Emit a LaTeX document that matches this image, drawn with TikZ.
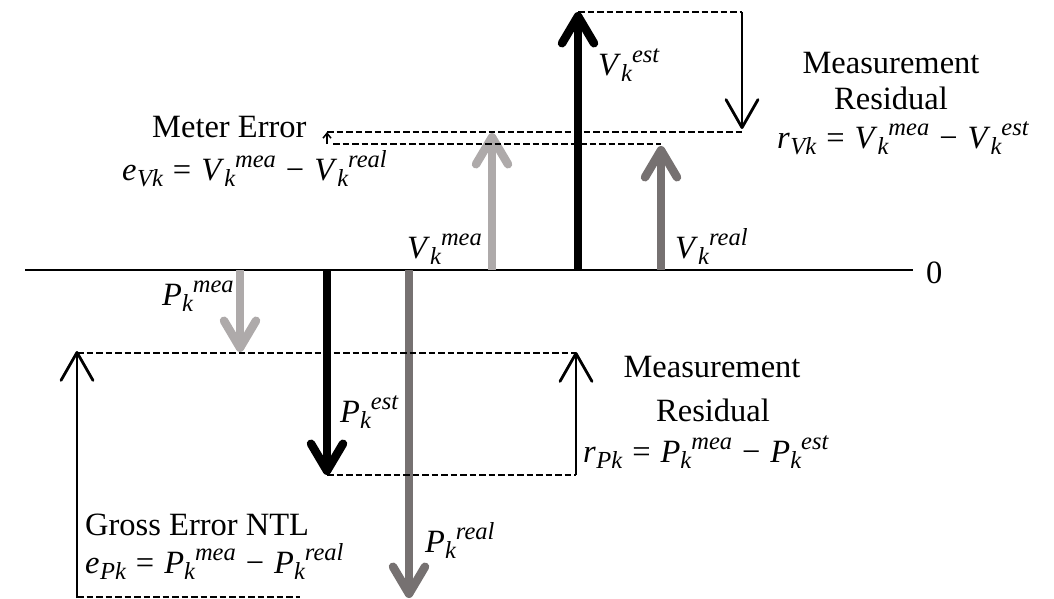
\documentclass[tikz,border=0pt]{standalone}
\usepackage{fontspec}
\setmainfont{Liberation Serif}
\usetikzlibrary{arrows.meta}
\definecolor{lightg}{HTML}{AEAAAA}
\definecolor{darkg}{HTML}{767171}
\newcommand{\subt}[1]{\raisebox{-6pt}{\fontsize{24.5}{24.5}\selectfont\itshape #1}}
\newcommand{\supt}[1]{\raisebox{13pt}{\fontsize{24.5}{24.5}\selectfont\itshape #1}}
\newcommand{\vq}[3]{\textit{#1}\subt{#2}\supt{#3}}
\newcommand{\opr}[1]{\hspace{10pt}#1\hspace{10pt}}
\newcommand{\mns}{\symbol{"2212}}
\newcommand{\lhs}[2]{\textit{#1}\kern0.5pt\subt{#2}}
\tikzset{
  lbl/.style={inner sep=0pt, font=\fontsize{32.5}{39}\selectfont},
  dline/.style={line width=1.7pt, dash pattern=on 6.5pt off 3pt},
  bigarrow/.style={line width=8.5pt, -{Straight Barb[length=27pt,width=32pt,round]}},
  thinarrow/.style={line width=2.8pt, -{Straight Barb[length=28pt,width=32pt,round]}},
  tinyarrow/.style={line width=1.5pt, -{Straight Barb[length=5pt,width=8pt]}},
  axisline/.style={line width=2pt}
}
\begin{document}
\begin{tikzpicture}[x=1pt,y=-1pt]
\useasboundingbox (0,0) rectangle (1054,599);
% coordinates
\coordinate (axL) at (25,270);
\coordinate (axR) at (913,270);
\coordinate (vmeaB) at (492,270); \coordinate (vmeaT) at (492,133);
\coordinate (vestB) at (578,270);  \coordinate (vestT) at (578,12);
\coordinate (vrealB) at (661,270); \coordinate (vrealT) at (661,146);
\coordinate (vresA) at (742,12);   \coordinate (vresB) at (742,129);
\coordinate (meB) at (327,144);    \coordinate (meT) at (327,132);
\coordinate (pmeaB) at (240,270);  \coordinate (pmeaT) at (240,352);
\coordinate (pestB) at (327,270);  \coordinate (pestT) at (327,475);
\coordinate (prealB) at (409,270); \coordinate (prealT) at (409,598);
\coordinate (presA) at (576,475);  \coordinate (presB) at (576,352);
\coordinate (grA) at (77,598);     \coordinate (grB) at (77,351);
\coordinate (dV1) at (742,132);    \coordinate (dV2a) at (333,144);
\coordinate (dP1) at (77,353);     \coordinate (dP1e) at (576,353);
\coordinate (dP3e) at (300,597);   \coordinate (dP3s) at (77,597);
% axis
\draw[axisline] (axL) -- (axR);
\node[lbl, anchor=base west] (zero) at (926,283) {0};
% arrows
\draw[bigarrow, lightg] (vmeaB) -- (vmeaT);
\draw[bigarrow, black] (vestB) -- (vestT);
\draw[bigarrow, darkg] (vrealB) -- (vrealT);
\draw[thinarrow] (vresA) -- (vresB);
\draw[tinyarrow] (meB) -- (meT);
\draw[bigarrow, lightg] (pmeaB) -- (pmeaT);
\draw[bigarrow, black] (pestB) -- (pestT);
\draw[bigarrow, darkg] (prealB) -- (prealT);
\draw[thinarrow] (presA) -- (presB);
\draw[thinarrow] (grA) -- (grB);
% dashed
\draw[dline] (vestT) -- (vresA);
\draw[dline] (meT) -- (dV1);
\draw[dline] (dV2a) -- (vrealT |- dV2a);
\draw[dline] (dP1) -- (dP1e);
\draw[dline] (pestT) -- (presA);
\draw[dline] (dP3s) -- (dP3e);
% labels
\node[lbl, anchor=base west] (lvest) at (598,76) {\vq{V}{k}{est}};
\node[lbl, anchor=base west] (lvmea) at (407,258) {\vq{V}{k}{mea}};
\node[lbl, anchor=base west] (lvreal) at (675,258) {\vq{V}{k}{real}};
\node[lbl, anchor=base west] (lpmea) at (162,305) {\vq{P}{k}{mea}};
\node[lbl, anchor=base west] (lpest) at (340,422) {\vq{P}{k}{est}};
\node[lbl, anchor=base west] (lpreal) at (425,552) {\vq{P}{k}{real}};
\node[lbl, anchor=base west] (metl) at (152,138) {Meter Error};
\node[lbl, anchor=base west] (meteq) at (122,180) {\lhs{e}{Vk}\opr{=}\vq{V}{k}{mea}\opr{\mns}\vq{V}{k}{real}};
\node[lbl, anchor=base] (mr1) at (891,74) {Measurement};
\node[lbl, anchor=base] (mr2) at (891,110) {Residual};
\node[lbl, anchor=base west] (mreq) at (777,148) {\lhs{r}{Vk}\opr{=}\vq{V}{k}{mea}\opr{\mns}\vq{V}{k}{est}};
\node[lbl, anchor=base] (pr1) at (712,377) {Measurement};
\node[lbl, anchor=base] (pr2) at (713,421) {Residual};
\node[lbl, anchor=base west] (preq) at (583,462) {\lhs{r}{Pk}\opr{=}\vq{P}{k}{mea}\opr{\mns}\vq{P}{k}{est}};
\node[lbl, anchor=base west] (gel) at (85,535) {Gross Error NTL};
\node[lbl, anchor=base west] (geeq) at (85,573) {\lhs{e}{Pk}\opr{=}\vq{P}{k}{mea}\opr{\mns}\vq{P}{k}{real}};
\end{tikzpicture}
\end{document}
